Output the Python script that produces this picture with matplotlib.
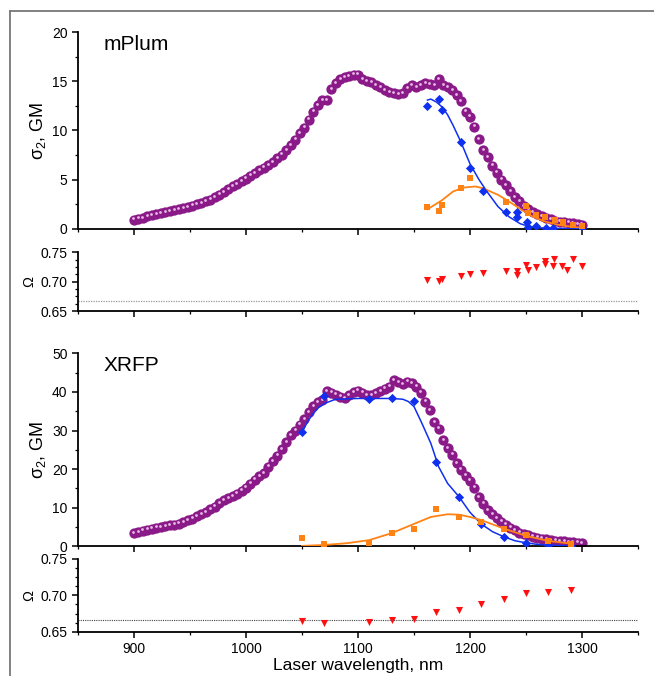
import numpy as np
import matplotlib
matplotlib.use("Agg")
import matplotlib.pyplot as plt
from matplotlib.lines import Line2D
from matplotlib.ticker import MultipleLocator
from matplotlib.transforms import offset_copy

plt.rcParams["font.family"] = ["Liberation Sans", "DejaVu Sans"]
plt.rcParams["mathtext.fontset"] = "custom"
plt.rcParams["mathtext.rm"] = "Liberation Sans"
plt.rcParams["mathtext.it"] = "Liberation Sans"

# ---- data: wavelength grid of the two-photon spectra ----
wl = np.arange(900, 1301, 4)

mplum_spec = [
    0.9, 1.0, 1.1, 1.25, 1.4, 1.5, 1.6, 1.7, 1.8, 1.9,
    2.0, 2.1, 2.2, 2.35, 2.5, 2.6, 2.8, 2.95, 3.2, 3.45,
    3.7, 4.0, 4.3, 4.55, 4.85, 5.1, 5.4, 5.65, 5.95, 6.2,
    6.45, 6.8, 7.15, 7.55, 8.0, 8.5, 9.05, 9.7, 10.3, 11.1,
    11.9, 12.6, 13.1, 13.1, 14.2, 14.8, 15.2, 15.4, 15.5, 15.7,
    15.7, 15.2, 15.0, 14.9, 14.6, 14.4, 14.1, 13.9, 13.8, 13.7,
    13.8, 14.3, 14.6, 14.4, 14.6, 14.8, 14.7, 14.6, 15.2, 14.6,
    14.4, 14.1, 13.6, 13.0, 11.9, 11.4, 10.4, 9.1, 8.0, 7.3,
    6.4, 5.7, 5.0, 4.4, 3.8, 3.2, 2.8, 2.3, 2.0, 1.7,
    1.5, 1.3, 1.1, 0.95, 0.8, 0.7, 0.65, 0.6, 0.55, 0.45,
    0.4,
]

xrfp_spec = [
    3.4, 3.7, 4.0, 4.3, 4.6, 4.8, 5.0, 5.2, 5.4, 5.6,
    5.9, 6.3, 6.7, 7.2, 7.8, 8.3, 8.9, 9.6, 10.3, 11.1,
    11.9, 12.5, 13.0, 13.6, 14.4, 15.2, 16.2, 17.3, 18.2, 19.0,
    20.6, 22.0, 23.5, 25.2, 27.0, 28.8, 30.0, 31.5, 33.0, 34.8,
    36.3, 37.3, 37.8, 40.2, 39.8, 39.3, 38.8, 38.4, 39.2, 40.0,
    40.3, 39.8, 39.2, 39.2, 39.7, 40.2, 40.8, 41.3, 43.0, 42.5,
    42.0, 42.6, 42.2, 41.3, 39.8, 37.5, 35.3, 32.2, 30.5, 27.5,
    25.4, 23.7, 21.6, 19.8, 18.3, 17.0, 15.2, 12.7, 11.0, 9.4,
    8.3, 7.3, 6.4, 5.6, 4.8, 4.1, 3.5, 3.1, 2.8, 2.5,
    2.2, 2.0, 1.8, 1.65, 1.5, 1.4, 1.25, 1.1, 1.0, 0.9,
    0.8,
]

# mPlum decomposition points and fitted curves
mplum_blue_x = [1162, 1172, 1175, 1192, 1200, 1212, 1232, 1242, 1242, 1251, 1252, 1259, 1268, 1274, 1300]
mplum_blue_y = [12.5, 13.2, 12.1, 8.8, 6.2, 3.85, 1.75, 1.7, 1.2, 0.7, 0.2, 0.3, 0.1, 0.12, 0.05]
mplum_orange_x = [1162, 1172, 1175, 1192, 1200, 1232, 1250, 1252, 1259, 1267, 1276, 1283, 1292, 1300]
mplum_orange_y = [2.2, 1.85, 2.45, 4.1, 5.2, 2.75, 2.3, 1.6, 1.4, 1.15, 0.9, 0.65, 0.4, 0.25]

mplum_bfit_x = [1162, 1165, 1170, 1175, 1180, 1185, 1192, 1200, 1208, 1215, 1225, 1235, 1245, 1255, 1270, 1300]
mplum_bfit_y = [13.1, 13.2, 12.9, 12.4, 11.6, 10.5, 8.8, 6.6, 5.0, 3.8, 2.25, 1.2, 0.5, 0.15, 0.03, 0.0]
mplum_ofit_x = [1162, 1168, 1175, 1185, 1195, 1205, 1212, 1225, 1235, 1245, 1255, 1265, 1275, 1285, 1295, 1300]
mplum_ofit_y = [1.98, 2.4, 2.9, 3.8, 4.2, 4.3, 4.1, 3.45, 2.76, 2.0, 1.3, 0.8, 0.48, 0.28, 0.15, 0.1]

mplum_omega_x = [1162, 1172, 1175, 1192, 1200, 1212, 1232, 1242, 1242, 1250, 1252, 1259,
                 1267, 1267, 1274, 1275, 1282, 1287, 1292, 1300]
mplum_omega_y = [0.703, 0.701, 0.704, 0.709, 0.713, 0.714, 0.718, 0.718, 0.711, 0.728, 0.720, 0.725,
                 0.736, 0.730, 0.727, 0.738, 0.727, 0.720, 0.738, 0.727]

# XRFP decomposition points and fitted curves
xrfp_pts_x = [1050, 1070, 1110, 1130, 1150, 1170, 1190, 1210, 1230, 1250, 1270, 1290]
xrfp_blue_y = [29.5, 38.9, 38.2, 38.5, 37.7, 21.9, 12.9, 5.7, 2.3, 0.9, 0.3, 0.1]
xrfp_orange_y = [2.1, 0.5, 0.9, 3.5, 4.5, 9.6, 7.5, 6.4, 4.4, 2.85, 1.45, 0.6]

xrfp_bfit_x = [1050, 1055, 1060, 1065, 1070, 1080, 1100, 1130, 1140, 1145, 1150, 1157, 1165,
               1172, 1180, 1190, 1200, 1210, 1220, 1230, 1240, 1250, 1260, 1270, 1290]
xrfp_bfit_y = [29.5, 32.3, 34.4, 36.0, 37.0, 38.1, 38.3, 38.3, 38.1, 37.5, 36.2, 31.9, 26.7,
               20.6, 16.3, 12.9, 8.8, 5.8, 3.8, 2.5, 1.45, 0.9, 0.5, 0.3, 0.1]
xrfp_ofit_x = [1050, 1070, 1090, 1110, 1130, 1150, 1165, 1180, 1190, 1200, 1210, 1230, 1250, 1270, 1290]
xrfp_ofit_y = [0.1, 0.35, 0.8, 1.6, 3.4, 5.8, 7.6, 8.3, 8.2, 7.6, 6.8, 4.6, 2.7, 1.4, 0.7]

xrfp_omega_y = [0.665, 0.662, 0.663, 0.666, 0.667, 0.677, 0.680, 0.688, 0.695, 0.703, 0.705, 0.708]

PURPLE = "#8B1A89"
HILITE = "#E8B8E6"
BLUE = "#1030F0"
ORANGE = "#FF8214"
RED = "#FF1010"

W, H = 654, 676
fig = plt.figure(figsize=(W / 100, H / 100), dpi=100)


def box(top, bottom, left=78, right=638):
    return [left / W, 1 - bottom / H, (right - left) / W, (bottom - top) / H]


ax1 = fig.add_axes(box(32.3, 228.7))
om1 = fig.add_axes(box(252.3, 311.0))
ax2 = fig.add_axes(box(353.3, 546.3))
om2 = fig.add_axes(box(559.0, 631.7))


def style(ax, labels_x=False):
    for s in ("top", "right"):
        ax.spines[s].set_visible(False)
    for s in ("left", "bottom"):
        ax.spines[s].set_linewidth(1.3)
    ax.set_xlim(850, 1350)
    ax.xaxis.set_major_locator(MultipleLocator(100))
    ax.xaxis.set_minor_locator(MultipleLocator(50))
    ax.tick_params(which="major", direction="out", length=4.5, width=1.1, labelsize=10, pad=3)
    ax.tick_params(which="minor", direction="out", length=2.5, width=0.9)
    if not labels_x:
        ax.tick_params(axis="x", which="both", labelbottom=False)


def spectrum(ax, y):
    ax.scatter(wl, y, s=55, color=PURPLE, linewidths=0, zorder=2)
    hl = offset_copy(ax.transData, fig=fig, x=-0.4, y=1.0, units="points")
    ax.scatter(wl, y, s=4, color=HILITE, linewidths=0, zorder=2.1, transform=hl)


def omega_axis(ax):
    ax.set_ylim(0.65, 0.75)
    ax.yaxis.set_major_locator(MultipleLocator(0.05))
    ax.yaxis.set_minor_locator(MultipleLocator(0.0125))
    ax.yaxis.set_major_formatter(matplotlib.ticker.FormatStrFormatter("%.2f"))
    ax.set_ylabel("Ω", fontsize=10.5)
    ax.yaxis.set_label_coords(-0.075, 0.5)


# ---- mPlum ----
style(ax1)
spectrum(ax1, mplum_spec)
ax1.plot(mplum_bfit_x, mplum_bfit_y, color=BLUE, lw=1.1, zorder=3)
ax1.plot(mplum_ofit_x, mplum_ofit_y, color=ORANGE, lw=1.3, zorder=3)
ax1.scatter(mplum_blue_x, mplum_blue_y, marker="D", s=22, color=BLUE, linewidths=0, zorder=4)
ax1.scatter(mplum_orange_x, mplum_orange_y, marker="s", s=22, color=ORANGE, linewidths=0, zorder=4)
ax1.set_ylim(0, 20)
ax1.yaxis.set_major_locator(MultipleLocator(5))
ax1.yaxis.set_minor_locator(MultipleLocator(2.5))
ax1.set_ylabel(r"$\mathregular{\sigma_2}$, GM", fontsize=13)
ax1.yaxis.set_label_coords(-0.054, 0.5)
ax1.text(0.045, 0.985, "mPlum", transform=ax1.transAxes, fontsize=15, va="top")

style(om1)
om1.scatter(mplum_omega_x, mplum_omega_y, marker="v", s=26, color=RED, linewidths=0, zorder=3)
om1.axhline(2 / 3, color="#999999", lw=0.9, ls=(0, (1, 1)))
omega_axis(om1)

# ---- XRFP ----
style(ax2)
spectrum(ax2, xrfp_spec)
ax2.plot(xrfp_bfit_x, xrfp_bfit_y, color=BLUE, lw=1.1, zorder=3)
ax2.plot(xrfp_ofit_x, xrfp_ofit_y, color=ORANGE, lw=1.3, zorder=3)
ax2.scatter(xrfp_pts_x, xrfp_blue_y, marker="D", s=22, color=BLUE, linewidths=0, zorder=4)
ax2.scatter(xrfp_pts_x, xrfp_orange_y, marker="s", s=22, color=ORANGE, linewidths=0, zorder=4)
ax2.set_ylim(0, 50)
ax2.yaxis.set_major_locator(MultipleLocator(10))
ax2.yaxis.set_minor_locator(MultipleLocator(5))
ax2.set_ylabel(r"$\mathregular{\sigma_2}$, GM", fontsize=13)
ax2.yaxis.set_label_coords(-0.054, 0.5)
ax2.text(0.045, 0.985, "XRFP", transform=ax2.transAxes, fontsize=15, va="top")

style(om2, labels_x=True)
om2.scatter(xrfp_pts_x, xrfp_omega_y, marker="v", s=26, color=RED, linewidths=0, zorder=3)
om2.axhline(2 / 3, color="#444444", lw=0.8, ls=(0, (1, 1)))
omega_axis(om2)
om2.set_xlabel("Laser wavelength, nm", fontsize=12.5, labelpad=1)

# thin frame on the left and top edges
fig.add_artist(Line2D([9.5 / W, 9.5 / W], [0, 1 - 10.5 / H], transform=fig.transFigure,
                      color="#777777", lw=1.3))
fig.add_artist(Line2D([9.5 / W, 1], [1 - 10.5 / H, 1 - 10.5 / H], transform=fig.transFigure,
                      color="#777777", lw=1.3))

fig.savefig("out.png", dpi=100)
